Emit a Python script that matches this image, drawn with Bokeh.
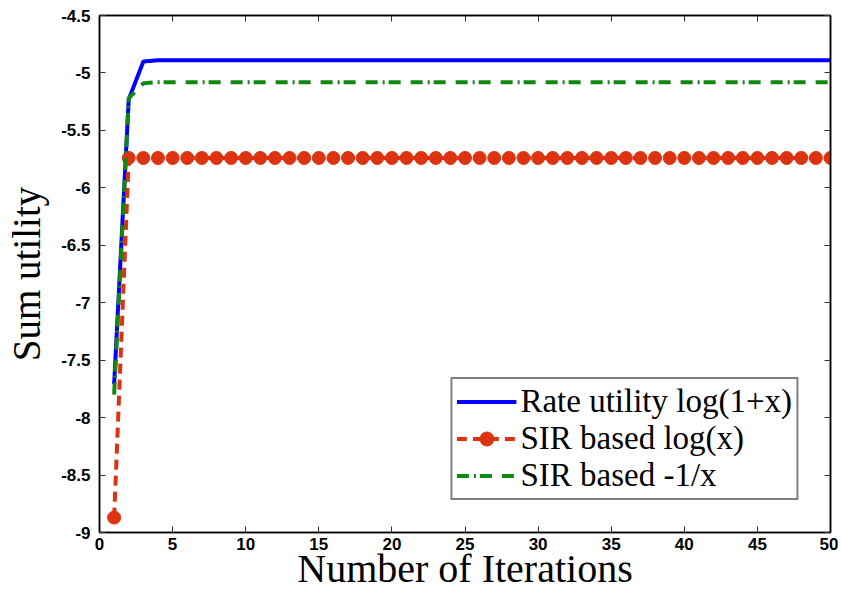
from bokeh.plotting import figure
from bokeh.models import LinearAxis, Legend, LegendItem, FixedTicker, Range1d, CustomJSTickFormatter
from bokeh.embed import file_html
from bokeh.resources import INLINE

iterations = list(range(1, 51))
rate_log1px = [-7.71, -5.23, -4.90, -4.89, -4.89, -4.89, -4.89, -4.89, -4.89, -4.89,
               -4.89, -4.89, -4.89, -4.89, -4.89, -4.89, -4.89, -4.89, -4.89, -4.89,
               -4.89, -4.89, -4.89, -4.89, -4.89, -4.89, -4.89, -4.89, -4.89, -4.89,
               -4.89, -4.89, -4.89, -4.89, -4.89, -4.89, -4.89, -4.89, -4.89, -4.89,
               -4.89, -4.89, -4.89, -4.89, -4.89, -4.89, -4.89, -4.89, -4.89, -4.89]
sir_logx = [-8.87, -5.74, -5.74, -5.74, -5.74, -5.74, -5.74, -5.74, -5.74, -5.74,
            -5.74, -5.74, -5.74, -5.74, -5.74, -5.74, -5.74, -5.74, -5.74, -5.74,
            -5.74, -5.74, -5.74, -5.74, -5.74, -5.74, -5.74, -5.74, -5.74, -5.74,
            -5.74, -5.74, -5.74, -5.74, -5.74, -5.74, -5.74, -5.74, -5.74, -5.74,
            -5.74, -5.74, -5.74, -5.74, -5.74, -5.74, -5.74, -5.74, -5.74, -5.74]
sir_inv = [-7.80, -5.22, -5.09, -5.08, -5.08, -5.08, -5.08, -5.08, -5.08, -5.08,
           -5.08, -5.08, -5.08, -5.08, -5.08, -5.08, -5.08, -5.08, -5.08, -5.08,
           -5.08, -5.08, -5.08, -5.08, -5.08, -5.08, -5.08, -5.08, -5.08, -5.08,
           -5.08, -5.08, -5.08, -5.08, -5.08, -5.08, -5.08, -5.08, -5.08, -5.08,
           -5.08, -5.08, -5.08, -5.08, -5.08, -5.08, -5.08, -5.08, -5.08, -5.08]
x_ticks = [0, 5, 10, 15, 20, 25, 30, 35, 40, 45, 50]
y_ticks = [-9, -8.5, -8, -7.5, -7, -6.5, -6, -5.5, -5, -4.5]
labels = ["Rate utility log(1+x)", "SIR based log(x)", "SIR based -1/x"]

BLUE = "#0000ff"
RED = "#dd3311"
GREEN = "#118811"

p = figure(width=838, height=593, output_backend="svg", toolbar_location=None,
           x_range=Range1d(0, 50), y_range=Range1d(-9, -4.5),
           min_border_left=99, min_border_right=8, min_border_top=15, min_border_bottom=50)
p.grid.visible = False
p.outline_line_color = "black"
p.outline_line_width = 1.5
p.background_fill_color = "white"
p.border_fill_color = "white"

def style_axis(ax):
    ax.major_tick_in = 6
    ax.major_tick_out = 0
    ax.minor_tick_line_color = None
    ax.axis_line_color = "black"
    ax.axis_line_width = 1.5
    ax.major_tick_line_color = "#333333"
    ax.major_label_text_font = "Liberation Sans"
    ax.major_label_text_font_style = "bold"
    ax.major_label_text_font_size = "17px"
    ax.major_label_text_color = "black"
    ax.axis_label_text_font = "Liberation Serif"
    ax.axis_label_text_font_style = "normal"
    ax.axis_label_text_color = "black"

p.xaxis.ticker = FixedTicker(ticks=x_ticks)
p.yaxis.ticker = FixedTicker(ticks=y_ticks)
style_axis(p.xaxis[0])
style_axis(p.yaxis[0])
p.xaxis.major_label_overrides = {t: f"{t:g}" for t in x_ticks}
p.yaxis.major_label_overrides = {t: f"{t:g}" for t in y_ticks}
p.xaxis.axis_label = "Number of Iterations"
p.yaxis.axis_label = "Sum utility"
p.xaxis.axis_label_text_font_size = "40px"
p.yaxis.axis_label_text_font_size = "39px"
p.xaxis.major_label_standoff = 5
p.yaxis.major_label_standoff = 9
p.xaxis.axis_label_standoff = -7
p.yaxis.axis_label_standoff = 10

blank = CustomJSTickFormatter(code="return ''")
top = LinearAxis(ticker=FixedTicker(ticks=x_ticks), formatter=blank)
style_axis(top)
top.major_label_standoff = 0
p.add_layout(top, "above")
right = LinearAxis(ticker=FixedTicker(ticks=y_ticks), formatter=blank)
style_axis(right)
right.major_label_standoff = 0
p.add_layout(right, "right")

r_blue = p.line(iterations, rate_log1px, line_color=BLUE, line_width=4)
r_red = p.line(iterations, sir_logx, line_color=RED, line_width=4, line_dash="10 6")
r_red_m = p.scatter(iterations, sir_logx, marker="circle", size=13,
                    fill_color=RED, line_color=RED)
r_green = p.line(iterations, sir_inv, line_color=GREEN, line_width=4,
                 line_dash="12 5 2 4 12 10")

legend = Legend(items=[
    LegendItem(label=labels[0], renderers=[r_blue]),
    LegendItem(label=labels[1], renderers=[r_red, r_red_m]),
    LegendItem(label=labels[2], renderers=[r_green]),
], location="bottom_right")
legend.label_text_font = "Liberation Serif"
legend.label_text_font_size = "33px"
legend.label_text_color = "black"
legend.glyph_width = 60
legend.glyph_height = 35
legend.label_height = 35
legend.label_standoff = 4
legend.spacing = 0
legend.padding = 4
legend.margin = 32
legend.border_line_color = "black"
legend.border_line_width = 2
legend.background_fill_alpha = 1
p.add_layout(legend, "center")

open("out.html", "w").write(file_html(p, INLINE))
